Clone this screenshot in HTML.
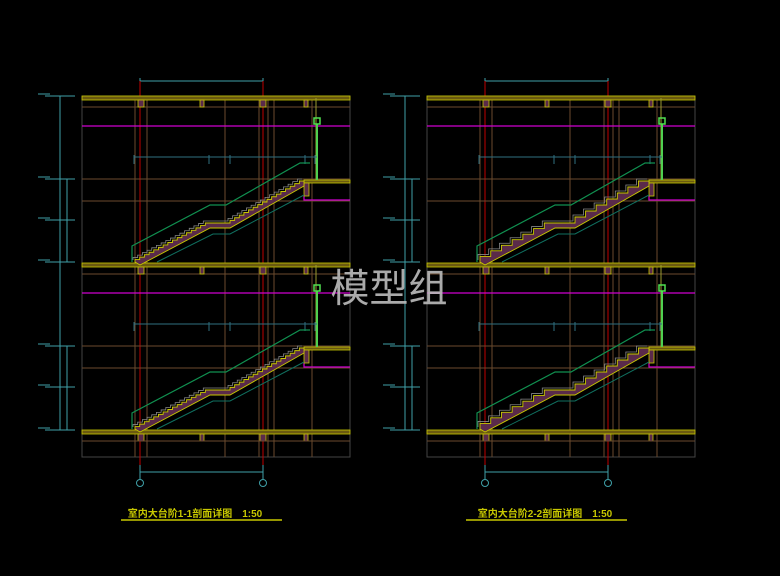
<!DOCTYPE html>
<html><head><meta charset="utf-8"><style>
html,body{margin:0;padding:0;background:#000;width:780px;height:576px;overflow:hidden}
svg{display:block}
</style></head><body>
<svg id="s" width="780" height="576" viewBox="0 0 780 576" xmlns="http://www.w3.org/2000/svg">
<rect width="780" height="576" fill="#000"/>
<g id="L"></g>
<g id="R" transform="translate(345,0)"></g>
<text x="195" y="517" font-family="'Liberation Sans','Noto Sans CJK SC',sans-serif" font-size="10" font-weight="bold" fill="#c8c800" text-anchor="middle">室内大台阶1-1剖面详图　1:50</text>
<line x1="121" y1="520" x2="282" y2="520" stroke="#c8c800" stroke-width="1.5"/>
<text x="545" y="517" font-family="'Liberation Sans','Noto Sans CJK SC',sans-serif" font-size="10" font-weight="bold" fill="#c8c800" text-anchor="middle">室内大台阶2-2剖面详图　1:50</text>
<line x1="466" y1="520" x2="627" y2="520" stroke="#c8c800" stroke-width="1.5"/>
<text x="389" y="302" font-family="'Liberation Sans','Noto Sans CJK SC',sans-serif" font-size="39" fill="#bdbdbd" fill-opacity="0.9" text-anchor="middle">模型组</text>
</svg>
<script>
function panel(g, big){
  var h='';
  var br='#6b4a2e', cy='#3fa0a8', yl='#c8c800';
  // frame
  h+='<rect x="82" y="96" width="268" height="361" fill="none" stroke="#444" stroke-width="1"/>';
  // vertical brown lines
  [135,147,225,259,268,274,312].forEach(function(x){h+='<line x1="'+x+'" y1="96" x2="'+x+'" y2="457" stroke="'+br+'" stroke-width="1"/>';});
  // left dims
  h+='<line x1="60" y1="96" x2="60" y2="430" stroke="'+cy+'"/>';
  h+='<line x1="67" y1="179" x2="67" y2="262" stroke="'+cy+'"/><line x1="67" y1="346" x2="67" y2="430" stroke="'+cy+'"/>';
  [96,179,220,262,346,387,430].forEach(function(y){h+='<line x1="45" y1="'+y+'" x2="75" y2="'+y+'" stroke="'+cy+'"/><line x1="38" y1="'+(y-2)+'" x2="50" y2="'+(y-2)+'" stroke="'+cy+'"/>';});
  // top dim
  h+='<line x1="140" y1="81" x2="263" y2="81" stroke="'+cy+'"/><line x1="140" y1="78" x2="140" y2="96" stroke="'+cy+'"/><line x1="263" y1="78" x2="263" y2="96" stroke="'+cy+'"/>';
  // bottom dim and axes
  h+='<line x1="140" y1="472" x2="263" y2="472" stroke="'+cy+'"/>';
  [140,263].forEach(function(x){h+='<line x1="'+x+'" y1="457" x2="'+x+'" y2="479" stroke="'+cy+'"/><circle cx="'+x+'" cy="483" r="3.5" fill="none" stroke="'+cy+'"/>';});
  // red axes
  [140,263].forEach(function(x){h+='<line x1="'+x+'" y1="81" x2="'+x+'" y2="465" stroke="#c00000" stroke-width="1"/>';});
  // slabs
  [96,263,430].forEach(function(y){
    h+='<rect x="82" y="'+y+'" width="268" height="4" fill="#6a5a10" stroke="'+yl+'" stroke-width="0.8"/>';
    h+='<line x1="82" y1="'+(y+11)+'" x2="350" y2="'+(y+11)+'" stroke="'+br+'"/>';
    [[138,6],[200,4],[260,6],[304,4]].forEach(function(b){h+='<rect x="'+b[0]+'" y="'+(y+4)+'" width="'+b[1]+'" height="7" fill="#5a2a4a" stroke="'+yl+'" stroke-width="0.8"/>';});
  });
  h+='<line x1="82" y1="441" x2="350" y2="441" stroke="'+br+'"/>';
  for(var k=0;k<2;k++){
    var o=k*167;
    h+='<line x1="82" y1="'+(126+o)+'" x2="350" y2="'+(126+o)+'" stroke="#d000d0" stroke-width="1.2"/>';
    h+='<line x1="82" y1="'+(179+o)+'" x2="350" y2="'+(179+o)+'" stroke="'+br+'"/>';
    h+='<line x1="82" y1="'+(201+o)+'" x2="350" y2="'+(201+o)+'" stroke="'+br+'"/>';
    h+='<polyline points="304,'+(196+o)+' 304,'+(200+o)+' 350,'+(200+o)+'" fill="none" stroke="#d000d0" stroke-width="1.2"/>';
    // landing slab
    h+='<rect x="304" y="'+(180+o)+'" width="46" height="3" fill="#6a5a10" stroke="'+yl+'" stroke-width="0.8"/>';
    h+='<rect x="304" y="'+(183+o)+'" width="5" height="13" fill="#5a2a4a" stroke="'+yl+'" stroke-width="0.8"/>';
    // rail
    h+='<line x1="316" y1="'+(98+o)+'" x2="316" y2="'+(180+o)+'" stroke="#9a9a30"/>';
    h+='<line x1="317" y1="'+(124+o)+'" x2="317" y2="'+(180+o)+'" stroke="#50d050" stroke-width="2"/>';
    h+='<rect x="314" y="'+(118+o)+'" width="6" height="6" fill="none" stroke="#50e050" stroke-width="1.5"/>';
    // dim line
    h+='<line x1="134" y1="'+(157+o)+'" x2="317" y2="'+(157+o)+'" stroke="#2f6f80"/>';
    [134,209,230,305,315].forEach(function(x){h+='<line x1="'+x+'" y1="'+(155+o)+'" x2="'+x+'" y2="'+(164+o)+'" stroke="#2f6f80"/>';});
    // handrail green
    h+='<polyline points="132,'+(262+o)+' 132,'+(246+o)+' 210,'+(205+o)+' 226,'+(205+o)+' 300,'+(163+o)+' 310,'+(163+o)+'" fill="none" stroke="#109050" stroke-width="1.2"/>';
    h+='<polyline points="157,'+(262+o)+' 213,'+(234+o)+' 230,'+(234+o)+' 304,'+(195+o)+'" fill="none" stroke="#107060" stroke-width="1"/>';
    // stairs
    var n=big?7:16;
    function flight(x0,y0,x1,y1){
      var pts=[],dx=(x1-x0)/n,dy=(y1-y0)/n,x=x0,y=y0;
      pts.push(x+','+y);
      for(var i=0;i<n;i++){y+=dy;pts.push(x+','+y);x+=dx;pts.push(x+','+y);}
      return pts;
    }
    var a=flight(135,262+o,210,223+o), b=flight(230,223+o,304,181+o);
    var top=a.concat(b);
    var poly=top.join(' ')+' 304,'+(186+o)+' 230,'+(228+o)+' 210,'+(228+o)+' 140,'+(265+o);
    h+='<polygon points="'+poly+'" fill="#5a2a4a" stroke="'+yl+'" stroke-width="0.9"/>';
    h+='<polyline points="'+top.map(function(p){var q=p.split(',');return (q[0]-2)+','+(q[1]-2);}).join(' ')+'" fill="none" stroke="#888" stroke-width="0.8"/>';
  }
  g.innerHTML=h;
}
panel(document.getElementById('L'),false);
panel(document.getElementById('R'),true);
</script>
</body></html>
